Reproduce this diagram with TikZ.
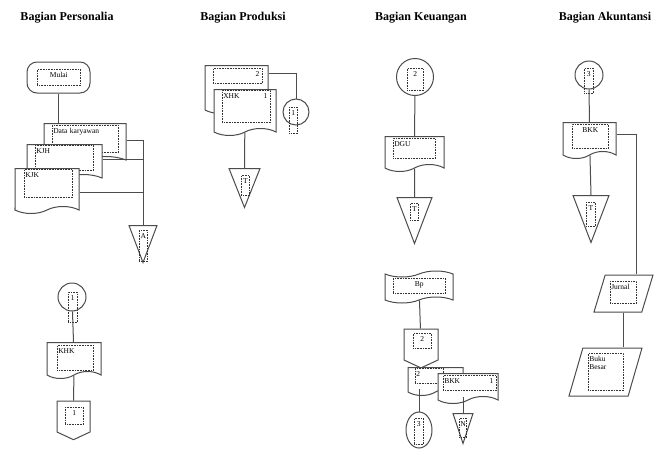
\documentclass[tikz,border=0pt]{standalone}
\usepackage{fontspec}
\setmainfont{Liberation Serif}
\usetikzlibrary{shapes.geometric,shapes.symbols,shapes.misc,positioning}
\newcommand\boxfont{\fontsize{7.5}{8.5}\selectfont}

\begin{document}
\begin{tikzpicture}[x=1pt, y=-1pt, line width=1pt, draw=black!70,
    title/.style={font=\bfseries\fontsize{12}{14}\selectfont},
    doc/.style={draw, fill=white, tape, tape bend top=none, tape bend bottom=in and out, tape bend height=7pt, inner sep=0pt},
    term/.style={draw, fill=white, rounded corners=10pt, inner sep=0pt},
    conn/.style={draw, fill=white, circle, inner sep=0pt},
    offpage/.style={draw, fill=white, signal, signal to=south, signal from=nowhere, signal pointer angle=130, inner sep=0pt},
    arsip/.style={draw, fill=white, isosceles triangle, isosceles triangle apex angle=42, isosceles triangle stretches, shape border rotate=270, inner sep=0pt},
    jurnalbox/.style={draw, fill=white, trapezium, trapezium left angle=73, trapezium right angle=107, trapezium stretches, inner sep=2pt},
    pita/.style={draw, fill=white, tape, tape bend top=in and out, tape bend bottom=in and out, tape bend height=6pt, inner sep=0pt},
    tbox/.style={draw=black!80, densely dotted, line width=0.6pt, inner sep=1pt, anchor=north west, font=\boxfont, text height=7pt, align=left},
    cbox/.style={tbox, align=center}
  ]
  \useasboundingbox (0,0) rectangle (654,450);

  \node[title] (tper) at (67,18) {Bagian Personalia};
  \node[title] (tpro) at (243,18) {Bagian Produksi};
  \node[title] (tkeu) at (421,18) {Bagian Keuangan};
  \node[title] (taku) at (605,18) {Bagian Akuntansi};

  % personalia
  \node[term, minimum width=63pt, minimum height=31pt] (mulai) at (58.5,77.5) {};
  \node[cbox, text width=41pt, text depth=7pt] (lmulai) at (37,69) {Mulai};
  \node[doc, minimum width=82pt, minimum height=40pt] (dk) at (85,140) {};
  \node[tbox, text width=64pt, text depth=18pt] (ldk) at (52,125) {Data karyawan};
  \node[doc, minimum width=75pt, minimum height=37pt] (kjh) at (64.5,159.5) {};
  \node[tbox, text width=56pt, text depth=16pt] (lkjh) at (35,145) {KJH};
  \node[doc, minimum width=64pt, minimum height=45pt] (kjk) at (47,187.5) {};
  \node[tbox, text width=46pt, text depth=19pt] (lkjk) at (24,169) {KJK};
  \node[arsip, minimum width=28pt, minimum height=37pt, anchor=north] (arsa) at (143,225) {};
  \node[cbox, text width=6pt, text depth=22pt] (larsa) at (139,230) {A};
  \draw (mulai) -- (mulai |- dk.north);
  \draw (dk.east) -| (arsa.north);
  \draw (kjh.east) -- (kjh.east -| arsa.north);
  \draw ([yshift=-5pt]kjk.east) -- ([yshift=-5pt]kjk.east -| arsa.north);

  \node[conn, minimum size=28pt] (cp1) at (72,297) {};
  \node[cbox, text width=7pt, text depth=21pt] (lcp1) at (68,292) {1};
  \node[doc, minimum width=54pt, minimum height=36pt] (khk) at (74,357) {};
  \node[tbox, text width=34pt, text depth=16pt] (lkhk) at (57,345) {KHK};
  \node[offpage, minimum width=33pt, minimum height=31pt] (opp1) at (73.5,416.5) {};
  \node[cbox, text width=16pt, text depth=8pt] (lopp1) at (65,407) {1};
  \draw (cp1) -- (khk);
  \draw (khk) -- (opp1);

  % produksi
  \node[doc, minimum width=63pt, minimum height=48pt] (xhkb) at (236.5,86) {};
  \node[tbox, text width=47pt, text depth=6pt] (lxhkb) at (213,68) {\hbox to 45pt{\hfil 2}};
  \node[doc, minimum width=62pt, minimum height=46pt] (xhk) at (245,109) {};
  \node[tbox, text width=46pt, text depth=23pt] (lxhk) at (222,90) {\hbox to 44pt{XHK\hfil 1}};
  \node[conn, minimum size=26pt] (cpr) at (296,112) {};
  \node[cbox, text width=6pt, text depth=17pt] (lcpr) at (289,107) {1};
  \node[arsip, minimum width=31pt, minimum height=39pt, anchor=north] (arsb) at (244.5,168) {};
  \node[cbox, text width=6pt, text depth=11pt] (larsb) at (241,175) {T};
  \draw ([yshift=13pt]xhkb.east) -| (cpr.north);
  \draw (xhk) -- (arsb.north);

  % keuangan
  \node[conn, minimum size=37pt] (ck2) at (415,77) {};
  \node[cbox, text width=14pt, text depth=13pt] (lck2) at (407,68) {2};
  \node[doc, minimum width=59pt, minimum height=35pt] (dgu) at (414.5,150.5) {};
  \node[tbox, text width=40pt, text depth=11pt] (ldgu) at (393,138) {DGU};
  \node[arsip, minimum width=35pt, minimum height=46pt, anchor=north] (arsc) at (414.5,197) {};
  \node[cbox, text width=6pt, text depth=8pt] (larsc) at (410,203) {T};
  \draw (ck2) -- (dgu);
  \draw (dgu) -- (arsc.north);

  \node[pita, minimum width=68pt, minimum height=32pt] (bp) at (419,287) {};
  \node[cbox, text width=50pt, text depth=6pt] (lbp) at (393,278) {Bp};
  \node[offpage, minimum width=34pt, minimum height=31pt] (opk2) at (421,344.5) {};
  \node[cbox, text width=16pt, text depth=6pt] (lopk2) at (413,333) {2};
  \node[doc, minimum width=55pt, minimum height=28pt] (bkkb) at (435.5,378) {};
  \node[tbox, text width=26pt, text depth=6pt] (lbkkb) at (415,368) {2};
  \node[doc, minimum width=60pt, minimum height=30pt] (bkkk) at (468,385) {};
  \node[tbox, text width=51pt, text depth=6pt] (lbkkk) at (443,375) {\hbox to 49pt{BKK\hfil 1}};
  \node[draw, fill=white, ellipse, minimum width=26pt, minimum height=36pt, inner sep=0pt] (ck3) at (419,430) {};
  \node[cbox, text width=7pt, text depth=17pt] (lck3) at (414,418) {3};
  \node[arsip, minimum width=20pt, minimum height=30pt, anchor=north] (arsd) at (463,413) {};
  \node[cbox, text width=5pt, text depth=10pt] (larsd) at (459,418) {N};
  \draw (bp) -- (opk2);
  \draw (ck3.north) -- (ck3.north |- bkkb.south);
  \draw (arsd.north) -- (arsd.north |- bkkk.south);

  % akuntansi
  \node[conn, minimum size=28pt] (ca3) at (589,75) {};
  \node[cbox, text width=7pt, text depth=16pt] (lca3) at (584,68) {3};
  \node[doc, minimum width=53pt, minimum height=36pt] (bkka) at (589.5,137) {};
  \node[cbox, text width=34pt, text depth=15pt] (lbkka) at (572,124) {BKK};
  \node[arsip, minimum width=36pt, minimum height=47pt, anchor=north] (arse) at (591,195) {};
  \node[cbox, text width=7pt, text depth=15pt] (larse) at (586,202) {T};
  \node[jurnalbox, minimum width=59pt, minimum height=37pt] (jurnal) at (623.5,293.5) {};
  \node[tbox, text width=24pt, text depth=13pt] (ljurnal) at (610,281) {Jurnal};
  \node[jurnalbox, minimum width=73pt, minimum height=48pt] (bubes) at (605.5,372) {};
  \node[tbox, text width=33pt, text depth=28pt] (lbubes) at (588,353) {Buku\\Besar};
  \draw (ca3) -- (bkka);
  \draw (bkka) -- (arse.north);
  \draw ([yshift=3pt]bkka.east) -| ([xshift=13pt]jurnal.north);
  \draw (jurnal.south) -- (jurnal.south |- bubes.north);
\end{tikzpicture}
\end{document}
